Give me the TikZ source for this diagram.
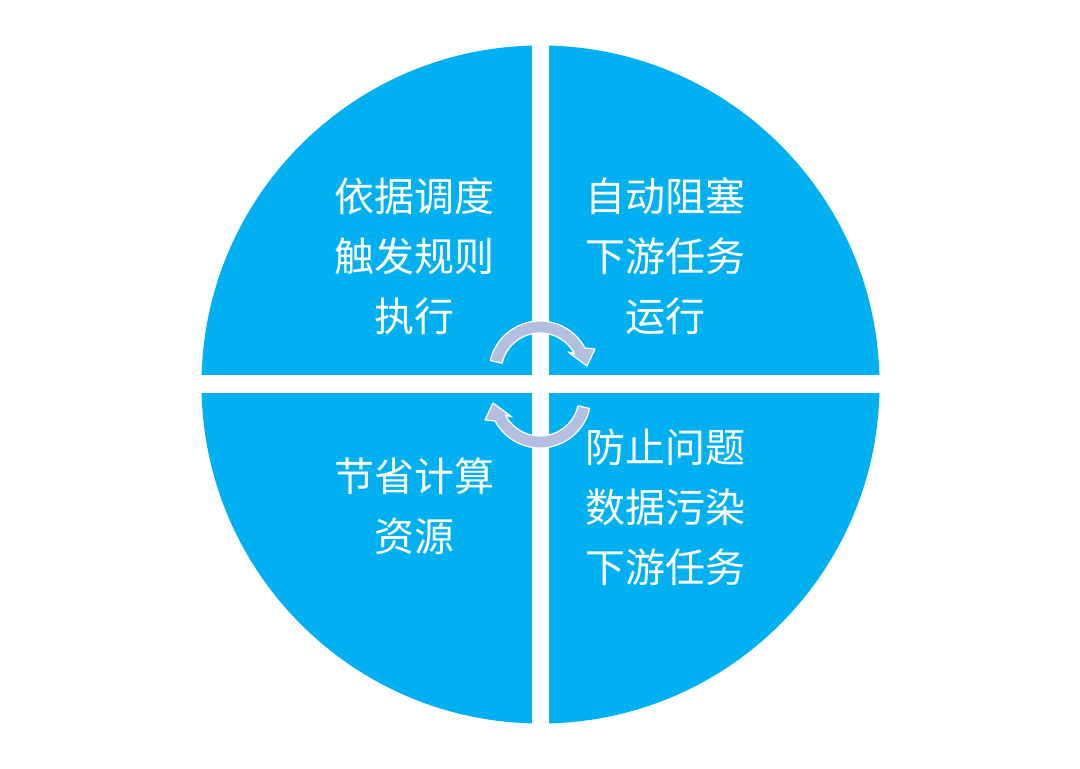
\documentclass[tikz,border=0pt]{standalone}
\usepackage{fontspec}
\newfontfamily\cjk{Noto Sans CJK SC}
\definecolor{qblue}{RGB}{0,176,240}
\definecolor{arrowfill}{RGB}{180,190,224}
\begin{document}
\begin{tikzpicture}[x=1pt,y=1pt,
  lbl/.style={text=white,font=\cjk\fontsize{40pt}{60pt}\selectfont,inner sep=0pt,anchor=base},
  cyc/.style={fill=arrowfill,draw=white,line width=1.2pt,line join=round}]
\useasboundingbox (0,0) rectangle (1080,769);
\fill[white] (0,0) rectangle (1080,769);
% disc
\fill[qblue] (540.5,384.5) circle[radius=339pt];
% white cross
\fill[white] (532,30) rectangle (549,740);
\fill[white] (190,376) rectangle (890,394);
% cycle arrows
\begin{scope}[shift={(540,397)}]
  \path[cyc] (167:51pt) arc[start angle=167,end angle=28,radius=51pt]
    -- (55,23) -- (47,6) -- (28,20) -- (28:39pt)
    arc[start angle=28,end angle=167,radius=39pt] -- cycle;
\end{scope}
\begin{scope}[shift={(540,372)},rotate=180]
  \path[cyc] (167:51pt) arc[start angle=167,end angle=28,radius=51pt]
    -- (55,23) -- (47,6) -- (28,20) -- (28:39pt)
    arc[start angle=28,end angle=167,radius=39pt] -- cycle;
\end{scope}
% texts
\node[lbl] (tl1) at (414,557.5) {依据调度};
\node[lbl] (tl2) at (414,497.5) {触发规则};
\node[lbl] (tl3) at (414,437.5) {执行};
\node[lbl] (tr1) at (665,557.5) {自动阻塞};
\node[lbl] (tr2) at (665,497.5) {下游任务};
\node[lbl] (tr3) at (665,437.5) {运行};
\node[lbl] (bl1) at (414,277.5) {节省计算};
\node[lbl] (bl2) at (414,217.5) {资源};
\node[lbl] (br1) at (665,306.5) {防止问题};
\node[lbl] (br2) at (665,246.5) {数据污染};
\node[lbl] (br3) at (665,186.5) {下游任务};
\end{tikzpicture}
\end{document}
